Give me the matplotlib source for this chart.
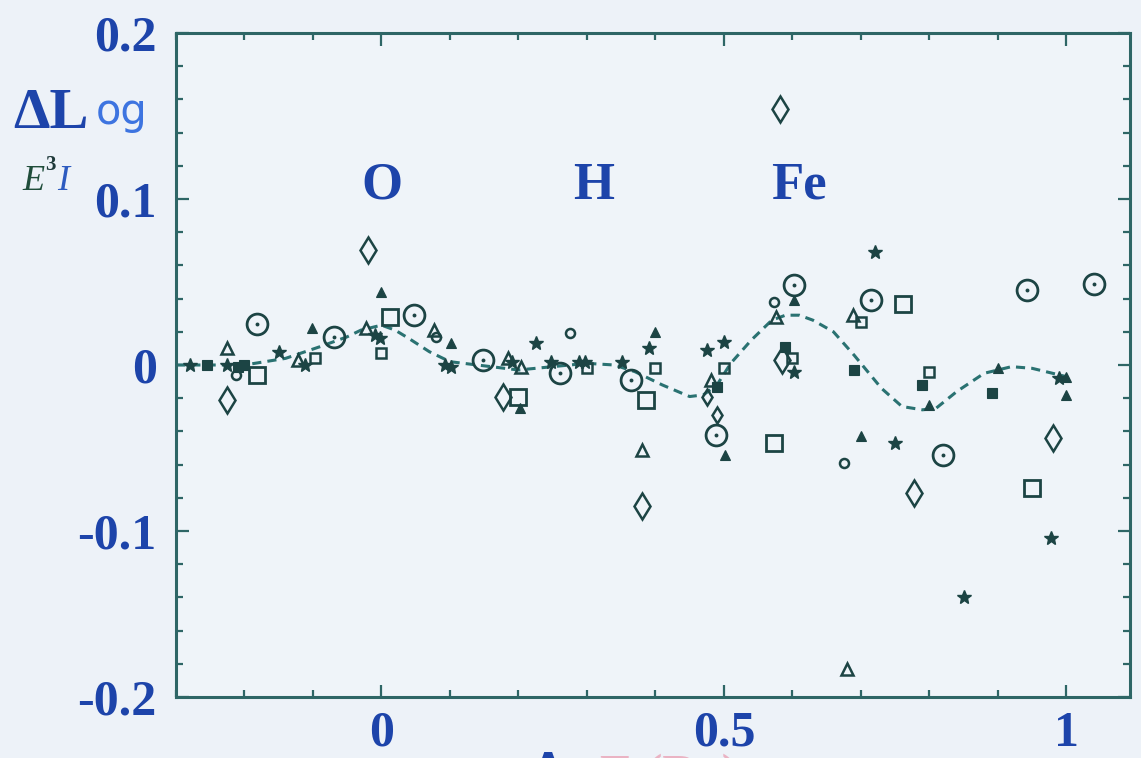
import numpy as np
import matplotlib
matplotlib.use("Agg")
import matplotlib.pyplot as plt
from matplotlib.ticker import MultipleLocator

# dashed model curve
curve_x = [-0.30, -0.20, -0.14, -0.09, -0.05, -0.03, 0.00, 0.02, 0.04, 0.07, 0.10, 0.14,
           0.20, 0.25, 0.30, 0.34, 0.37, 0.41, 0.45, 0.47, 0.49, 0.51, 0.54, 0.57, 0.59,
           0.61, 0.63, 0.66, 0.69, 0.73, 0.76, 0.79, 0.81, 0.84, 0.88, 0.92, 0.95, 0.98, 1.00]
curve_y = [0.000, 0.000, 0.004, 0.011, 0.017, 0.021, 0.024, 0.021, 0.016, 0.008, 0.002, 0.000,
           -0.003, -0.001, 0.001, 0.000, -0.004, -0.012, -0.019, -0.018, -0.012, 0.001, 0.015,
           0.027, 0.030, 0.030, 0.027, 0.020, 0.006, -0.014, -0.025, -0.027, -0.026, -0.016,
           -0.005, -0.001, -0.002, -0.005, -0.007]

star_x = [-0.28, -0.225, -0.149, -0.112, -0.01, -0.002, 0.093, 0.102, 0.19, 0.226, 0.248, 0.288,
          0.297, 0.351, 0.39, 0.475, 0.50, 0.602, 0.721, 0.75, 0.851, 0.977, 0.99]
star_y = [0.0, 0.0, 0.008, 0.0, 0.018, 0.016, 0.0, -0.001, 0.002, 0.013, 0.002, 0.002,
          0.002, 0.002, 0.010, 0.009, 0.014, -0.004, 0.068, -0.047, -0.140, -0.104, -0.008]

fsq_x = [-0.255, -0.21, -0.20, 0.49, 0.589, 0.69, 0.79, 0.891]
fsq_y = [0.0, -0.001, 0.0, -0.013, 0.011, -0.003, -0.012, -0.017]

ftri_x = [-0.102, 0.0, 0.102, 0.203, 0.40, 0.502, 0.602, 0.70, 0.80, 0.90, 1.0, 1.0]
ftri_y = [0.022, 0.044, 0.013, -0.026, 0.020, -0.054, 0.039, -0.043, -0.024, -0.002, -0.018, -0.007]

otri_x = [-0.225, -0.122, -0.022, 0.077, 0.185, 0.204, 0.38, 0.481, 0.576, 0.688, 0.68]
otri_y = [0.010, 0.003, 0.022, 0.021, 0.004, -0.001, -0.051, -0.009, 0.029, 0.030, -0.183]

dia_x = [-0.225, -0.02, 0.178, 0.38, 0.582, 0.585, 0.778, 0.98]
dia_y = [-0.021, 0.069, -0.019, -0.085, 0.154, 0.003, -0.077, -0.044]

sdia_x = [0.475, 0.49]
sdia_y = [-0.019, -0.030]

scirc_x = [-0.213, 0.08, 0.276, 0.573, 0.675]
scirc_y = [-0.006, 0.017, 0.019, 0.038, -0.059]

cdot_x = [-0.181, -0.07, 0.048, 0.149, 0.261, 0.365, 0.488, 0.602, 0.715, 0.82, 0.942, 1.04]
cdot_y = [0.025, 0.017, 0.030, 0.003, -0.005, -0.009, -0.042, 0.048, 0.039, -0.054, 0.045, 0.049]

osq_x = [-0.181, 0.013, 0.2, 0.387, 0.573, 0.761, 0.95]
osq_y = [-0.006, 0.029, -0.019, -0.021, -0.047, 0.037, -0.074]

ssq_x = [-0.097, 0.0, 0.30, 0.40, 0.50, 0.60, 0.70, 0.80]
ssq_y = [0.004, 0.007, -0.002, -0.002, -0.002, 0.004, 0.026, -0.004]

labels = ["O", "H", "Fe"]
label_x = [0.0, 0.31, 0.61]

ink = "#1c4444"
frame = "#2e6666"
blue = "#1d44aa"
bg = "#edf2f8"
serif = "Liberation Serif"

fig = plt.figure(figsize=(11.41, 7.58), dpi=100, facecolor=bg)
ax = fig.add_axes([176 / 1141, 1 - 697 / 758, (1130 - 176) / 1141, (697 - 33) / 758])
ax.set_facecolor("#eff4f9")

ax.plot(curve_x, curve_y, linestyle=(0, (3, 2)), color="#2a7272", lw=2.2, zorder=2)

mk = dict(linestyle="none", color=ink, zorder=3)
ax.plot(star_x, star_y, marker="*", ms=10, mfc=ink, mew=1.0, **mk)
ax.plot(fsq_x, fsq_y, marker="s", ms=6.5, mfc=ink, mew=0.8, **mk)
ax.plot(ftri_x, ftri_y, marker="^", ms=7.5, mfc=ink, mew=0.8, **mk)
ax.plot(otri_x, otri_y, marker="^", ms=8.5, mfc="none", mew=1.8, **mk)
ax.plot(dia_x, dia_y, marker="d", ms=13, mfc="none", mew=1.8, **mk)
ax.plot(sdia_x, sdia_y, marker="d", ms=8, mfc="none", mew=1.8, **mk)
ax.plot(scirc_x, scirc_y, marker="o", ms=6.5, mfc="none", mew=1.8, **mk)
ax.plot(cdot_x, cdot_y, marker="o", ms=15, mfc="none", mew=2.0, **mk)
ax.plot(cdot_x, cdot_y, marker="o", ms=2.8, mfc=ink, mew=0, **mk)
ax.plot(osq_x, osq_y, marker="s", ms=12, mfc="none", mew=2.0, **mk)
ax.plot(ssq_x, ssq_y, marker="s", ms=7, mfc="none", mew=1.8, **mk)

for name, xp in zip(labels, label_x):
    ax.text(xp, 0.108, name, ha="center", va="center", fontsize=38, fontweight="bold",
            family=serif, color=blue)

ax.set_xlim(-0.3, 1.093)
ax.set_ylim(-0.2, 0.2)
ax.xaxis.set_minor_locator(MultipleLocator(0.1))
ax.yaxis.set_minor_locator(MultipleLocator(0.02))
ax.set_xticks([0, 0.5, 1])
ax.set_xticklabels(["0", "0.5", "1"])
ax.set_yticks([-0.2, -0.1, 0, 0.1, 0.2])
ax.set_yticklabels(["-0.2", "-0.1", "0", "0.1", "0.2"])

ax.tick_params(which="both", direction="in", top=True, right=True, color=frame, width=1.6)
ax.tick_params(which="major", length=9)
ax.tick_params(which="minor", length=5)
ax.tick_params(axis="x", which="major", pad=10)
ax.tick_params(axis="y", which="major", pad=14)
for lab in ax.get_xticklabels() + ax.get_yticklabels():
    lab.set_fontfamily(serif)
    lab.set_fontweight("bold")
    lab.set_fontsize(36)
    lab.set_color(blue)
for sp in ax.spines.values():
    sp.set_color(frame)
    sp.set_linewidth(2.2)

# hand-lettered axis title on the left
fig.text(13 / 1141, 1 - 128 / 758, "\u0394L", fontsize=42, fontweight="bold", family=serif,
         color=blue, va="baseline")
fig.text(96 / 1141, 1 - 124 / 758, "og", fontsize=30, family="DejaVu Sans",
         color="#3d74e0", va="baseline")
fig.text(22 / 1141, 1 - 190 / 758, "E", fontsize=26, style="italic", family=serif,
         color="#1f4d3a", va="baseline")
fig.text(45 / 1141, 1 - 170 / 758, "3", fontsize=15, fontweight="bold", family=serif,
         color="#1f3a3a", va="baseline")
fig.text(57 / 1141, 1 - 190 / 758, "I", fontsize=26, style="italic", family=serif,
         color="#2d5bc0", va="baseline")

# x title, almost entirely cut off by the lower edge
fig.text(530 / 1141, 1 - 750 / 758, "\u0394", fontsize=40, fontweight="bold", family=serif,
         color=blue, va="top")
fig.text(600 / 1141, 1 - 754 / 758, "E (Ry)", fontsize=36, fontweight="bold", family=serif,
         color="#e88aa0", va="top", alpha=0.6)

fig.savefig("out.png", dpi=100, facecolor=bg)
